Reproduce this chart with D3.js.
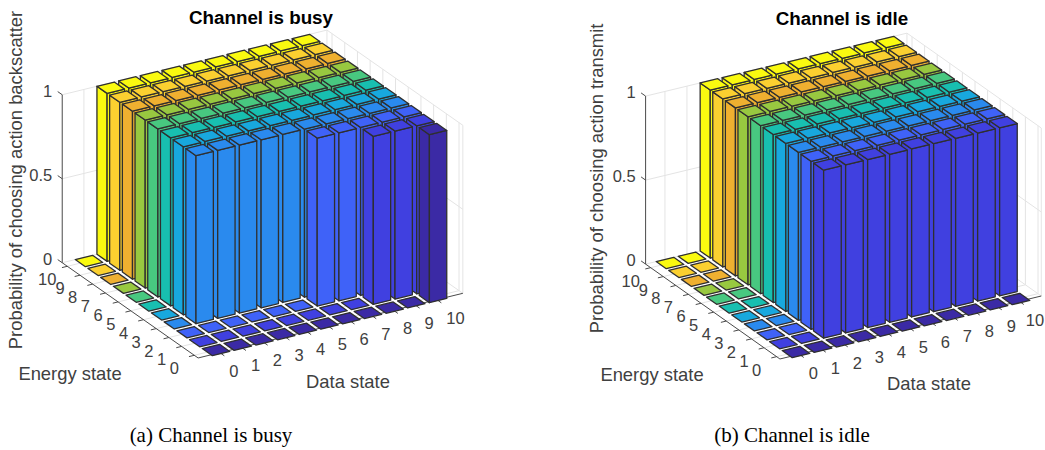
<!DOCTYPE html>
<html><head><meta charset="utf-8">
<script src="https://cdn.jsdelivr.net/npm/d3@7/dist/d3.min.js"></script>
<style>html,body{margin:0;padding:0;background:#fff}svg{display:block}</style>
</head><body>
<svg id="c" width="1045" height="450"></svg>
<script>
const dataStates=[0,1,2,3,4,5,6,7,8,9,10];
const energyStates=[0,1,2,3,4,5,6,7,8,9,10];
const zTicks=[0,0.5,1];
// colour of each energy state, index 0 is energy 0
const energyColors=["#3b2aa5","#4040e0","#3f62f8","#2a8aee","#18a8de","#18bfb0","#48c880","#98c840","#efb030","#fbd030","#fafa10"];
// rows = energy state 0..10, columns = data state 0..10
const busyValues=[
[0,0,0,0,0,0,0,0,0,0,1],
[0,0,0,0,0,0,0,0,1,1,1],
[0,0,0,0,0,0,1,1,1,1,1],
[0,1,1,1,1,1,1,1,1,1,1],
[0,1,1,1,1,1,1,1,1,1,1],
[0,1,1,1,1,1,1,1,1,1,1],
[0,1,1,1,1,1,1,1,1,1,1],
[0,1,1,1,1,1,1,1,1,1,1],
[0,1,1,1,1,1,1,1,1,1,1],
[0,1,1,1,1,1,1,1,1,1,1],
[0,1,1,1,1,1,1,1,1,1,1]];
const idleValues=[
[0,0,0,0,0,0,0,0,0,0,0],
[0,0,1,1,1,1,1,1,1,1,1],
[0,0,1,1,1,1,1,1,1,1,1],
[0,0,1,1,1,1,1,1,1,1,1],
[0,0,1,1,1,1,1,1,1,1,1],
[0,0,1,1,1,1,1,1,1,1,1],
[0,0,1,1,1,1,1,1,1,1,1],
[0,0,1,1,1,1,1,1,1,1,1],
[0,0,1,1,1,1,1,1,1,1,1],
[0,0,1,1,1,1,1,1,1,1,1],
[0,0,1,1,1,1,1,1,1,1,1]];

const svg=d3.select("#c");
const TXT="#404040",GRID="#e4e4e4",AX="#4a4a4a",EDGE="#2f2f2f";
const FONT="'Liberation Sans',Arial,sans-serif";
const TICKSIZE=16.5;

function chart(o){
  const g=svg.append("g");
  const dx=d3.scaleLinear().domain([0,10]).range([0,o.ux*10]);
  const dy=d3.scaleLinear().domain([0,10]).range([0,o.uy*10]);
  const ex=d3.scaleLinear().domain([0,10]).range([0,o.vx*10]);
  const ey=d3.scaleLinear().domain([0,10]).range([0,o.vy*10]);
  const zy=d3.scaleLinear().domain([0,1]).range([0,-o.zh]);
  const P=(d,e,z)=>[o.ox+dx(d)+ex(e),o.oy+dy(d)+ey(e)+zy(z)];
  const dMin=-o.da,dMax=o.db,eMin=-o.ea,eMax=o.eb;
  const line=(a,b,col,w)=>g.append("line").attr("x1",a[0]).attr("y1",a[1]).attr("x2",b[0]).attr("y2",b[1]).attr("stroke",col).attr("stroke-width",w);

  // grid on the floor and both back walls
  dataStates.forEach(d=>{
    line(P(d,eMin,0),P(d,eMax,0),GRID,1);
    line(P(d,eMax,0),P(d,eMax,1),GRID,1);
  });
  energyStates.forEach(e=>{
    line(P(dMin,e,0),P(dMax,e,0),GRID,1);
    line(P(dMax,e,0),P(dMax,e,1),GRID,1);
  });
  zTicks.forEach(z=>{
    line(P(dMin,eMax,z),P(dMax,eMax,z),GRID,1);
    line(P(dMax,eMax,z),P(dMax,eMin,z),GRID,1);
  });
  line(P(dMax,eMax,0),P(dMax,eMax,1),GRID,1);
  line(P(dMax,eMin,0),P(dMax,eMin,1),GRID,1);

  // axes
  line(P(dMin,eMax,0),P(dMin,eMin,0),AX,1);
  line(P(dMin,eMin,0),P(dMax,eMin,0),AX,1);
  line(P(dMin,eMax,0),P(dMin,eMax,1),AX,1);
  const uLen=Math.hypot(o.ux,o.uy),vLen=Math.hypot(o.vx,o.vy);
  const tl=5.5;
  energyStates.forEach(e=>{
    const a=P(dMin,e,0);
    line(a,[a[0]-o.ux/uLen*tl,a[1]-o.uy/uLen*tl],AX,1);
    g.append("text").attr("x",a[0]+o.elx).attr("y",a[1]+o.ely+6).attr("text-anchor","middle")
     .attr("font-family",FONT).attr("font-size",TICKSIZE).attr("fill",TXT).text(e);
  });
  dataStates.forEach(d=>{
    const a=P(d,eMin,0);
    line(a,[a[0]-o.vx/vLen*tl,a[1]-o.vy/vLen*tl],AX,1);
    g.append("text").attr("x",a[0]+o.dlx+(d===10?o.lastShift:0)).attr("y",a[1]+o.dly+6).attr("text-anchor","start")
     .attr("font-family",FONT).attr("font-size",TICKSIZE).attr("fill",TXT).text(d);
  });
  zTicks.forEach(z=>{
    const a=P(dMin,eMax,z);
    line(a,[a[0]+o.vx/vLen*tl,a[1]+o.vy/vLen*tl],AX,1);
    g.append("text").attr("x",a[0]-10).attr("y",a[1]-4+6).attr("text-anchor","end")
     .attr("font-family",FONT).attr("font-size",TICKSIZE).attr("fill",TXT).text(z);
  });

  // bars, back to front
  const w=0.4;
  const poly=(pts,fill)=>g.append("polygon").attr("points",pts.map(p=>p.join(",")).join(" "))
    .attr("fill",fill).attr("stroke",EDGE).attr("stroke-width",1.3).attr("stroke-linejoin","round");
  for(let ei=energyStates.length-1;ei>=0;ei--){
    for(let di=dataStates.length-1;di>=0;di--){
      const d=dataStates[di],e=energyStates[ei],v=o.values[ei][di],c=energyColors[ei];
      if(v>0){
        poly([P(d-w,e-w,0),P(d-w,e+w,0),P(d-w,e+w,v),P(d-w,e-w,v)],c);
        poly([P(d-w,e-w,0),P(d+w,e-w,0),P(d+w,e-w,v),P(d-w,e-w,v)],c);
      }
      poly([P(d-w,e-w,v),P(d+w,e-w,v),P(d+w,e+w,v),P(d-w,e+w,v)],c);
    }
  }

  // labels
  const t=(s,x,y,size,extra)=>{const n=g.append("text").attr("x",x).attr("y",y).attr("font-family",FONT)
     .attr("font-size",size).attr("fill",TXT).attr("text-anchor","middle").text(s);if(extra)extra(n);return n;};
  t(o.title,o.titleX,o.titleY,18.8,n=>n.attr("font-weight","bold").attr("fill","#000"));
  t("Energy state",o.elabX,o.elabY,18.4);
  t("Data state",o.dlabX,o.dlabY,18.4);
  t(o.ylabel,0,0,18.4,n=>n.attr("transform",`translate(${o.ylabX},${o.ylabY}) rotate(-90)`));
  g.append("text").attr("x",o.capX).attr("y",o.capY).attr("text-anchor","middle")
   .attr("font-family","'Liberation Serif','Times New Roman',serif").attr("font-size",21).attr("fill","#000").text(o.caption);
}

chart({values:busyValues,ox:216,oy:350,ux:21.7,uy:-5.3,vx:-12.7,vy:-8.9,zh:168,da:1,db:11.2,ea:0.3,eb:10.4,
  elx:-20,ely:13,dlx:9.5,dly:18,lastShift:0,
  title:"Channel is busy",titleX:261,titleY:24,elabX:70,elabY:380,dlabX:348,dlabY:388,
  ylabel:"Probability of choosing action backscatter",ylabX:22,ylabY:180,caption:"(a) Channel is busy",capX:211,capY:442});
chart({values:idleValues,ox:796,oy:352,ux:22,uy:-5.3,vx:-12.6,vy:-8.9,zh:168,da:0.88,db:11,ea:0.26,eb:10.4,
  elx:-20,ely:13,dlx:9.5,dly:19,lastShift:-3,
  title:"Channel is idle",titleX:842,titleY:25,elabX:652,elabY:381,dlabX:929,dlabY:390,
  ylabel:"Probability of choosing action transmit",ylabX:603,ylabY:178.5,caption:"(b) Channel is idle",capX:792,capY:442});
</script>
</body></html>
